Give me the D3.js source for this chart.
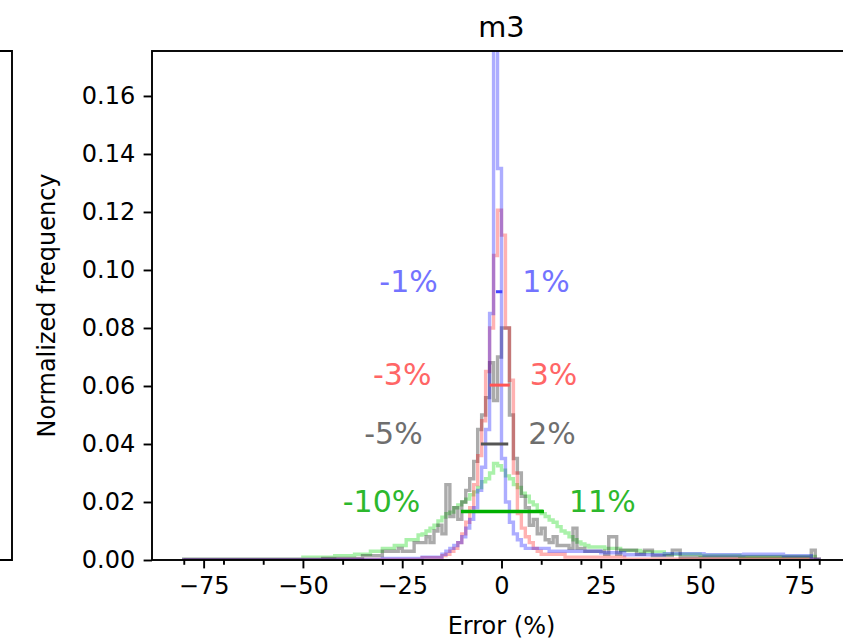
<!DOCTYPE html>
<html>
<head>
<meta charset="utf-8">
<script src="https://cdn.jsdelivr.net/npm/d3@7"></script>
<style>
  body { margin: 0; background: #fff; }
  svg { display: block; font-family: "DejaVu Sans", sans-serif; }
</style>
</head>
<body>
<div id="chart"></div>
<script>
// bins are 1% wide, left edges from -80 to 79; runs are [firstBin, lastBin, value]
const blueRuns = [
  [-80, -31, 0.0002], [-30, -21, 0.0005], [-20, -16, 0.001], [-15, -15, 0.002],
  [-14, -14, 0.003], [-13, -13, 0.004], [-12, -12, 0.005], [-11, -11, 0.006],
  [-10, -10, 0.008], [-9, -9, 0.011], [-8, -8, 0.014], [-7, -7, 0.018],
  [-6, -6, 0.024], [-5, -5, 0.032], [-4, -4, 0.045], [-3, -3, 0.085],
  [-2, -2, 0.185], [-1, -1, 0.135], [0, 0, 0.035], [1, 1, 0.02],
  [2, 2, 0.013], [3, 3, 0.009], [4, 4, 0.007], [5, 5, 0.005],
  [6, 11, 0.004], [12, 24, 0.003], [25, 30, 0.0025], [31, 40, 0.0018],
  [41, 50, 0.0022], [51, 60, 0.0018], [61, 70, 0.002], [71, 77, 0.0015],
  [78, 79, 0.0003]
];

const redRuns = [
  [-80, -21, 0.0002], [-20, -16, 0.0008], [-15, -15, 0.0015], [-14, -14, 0.002],
  [-13, -13, 0.003], [-12, -12, 0.004], [-11, -11, 0.006], [-10, -10, 0.009],
  [-9, -9, 0.013], [-8, -8, 0.018], [-7, -7, 0.026], [-6, -6, 0.036],
  [-5, -5, 0.048], [-4, -4, 0.065], [-3, -3, 0.08], [-2, -2, 0.105],
  [-1, -1, 0.1206], [0, 0, 0.112], [1, 1, 0.08], [2, 2, 0.062],
  [3, 3, 0.03], [4, 4, 0.016], [5, 5, 0.011], [6, 6, 0.008],
  [7, 7, 0.006], [8, 8, 0.004], [9, 9, 0.003], [10, 15, 0.002],
  [16, 30, 0.001], [31, 79, 0.0003]
];

const grayRuns = [
  [-80, -46, 0], [-45, -36, 0.0005], [-35, -31, 0.0015], [-30, -27, 0.003],
  [-26, -26, 0.004], [-25, -23, 0.003], [-22, -20, 0.006], [-19, -19, 0.008],
  [-18, -18, 0.006], [-17, -17, 0.010], [-16, -16, 0.012], [-15, -15, 0.009],
  [-14, -14, 0.026], [-13, -13, 0.015], [-12, -12, 0.018], [-11, -11, 0.014],
  [-10, -10, 0.02], [-9, -9, 0.024], [-8, -8, 0.028], [-7, -7, 0.034],
  [-6, -6, 0.045], [-5, -5, 0.05], [-4, -4, 0.056], [-3, -3, 0.068],
  [-2, -2, 0.055], [-1, -1, 0.07], [0, 1, 0.08], [2, 2, 0.05],
  [3, 3, 0.035], [4, 4, 0.03], [5, 5, 0.022], [6, 6, 0.018],
  [7, 7, 0.012], [8, 8, 0.014], [9, 9, 0.009], [10, 10, 0.011],
  [11, 11, 0.007], [12, 12, 0.006], [13, 13, 0.008], [14, 16, 0.005],
  [17, 17, 0.004], [18, 18, 0.011], [19, 20, 0.004], [21, 25, 0.003],
  [26, 26, 0.002], [27, 28, 0.008], [29, 29, 0.002], [30, 33, 0.0034],
  [34, 35, 0.002], [36, 37, 0.0034], [38, 42, 0.0015], [43, 44, 0.0034],
  [45, 77, 0.001], [78, 78, 0.0034], [79, 79, 0]
];

const greenRuns = [
  [-80, -51, 0.0003], [-50, -43, 0.001], [-42, -38, 0.0015], [-37, -34, 0.002],
  [-33, -31, 0.003], [-30, -28, 0.004], [-27, -25, 0.005], [-24, -22, 0.007],
  [-21, -21, 0.0086], [-20, -20, 0.009], [-19, -19, 0.010], [-18, -18, 0.011],
  [-17, -17, 0.012], [-16, -16, 0.0135], [-15, -15, 0.0148], [-14, -14, 0.016],
  [-13, -13, 0.0165], [-12, -12, 0.018], [-11, -11, 0.019], [-10, -10, 0.020],
  [-9, -9, 0.021], [-8, -8, 0.0225], [-7, -7, 0.0235], [-6, -6, 0.025],
  [-5, -5, 0.027], [-4, -4, 0.028], [-3, -3, 0.030], [-2, -2, 0.0333],
  [-1, -1, 0.0325], [0, 0, 0.031], [1, 1, 0.029], [2, 2, 0.028],
  [3, 3, 0.026], [4, 4, 0.025], [5, 5, 0.023], [6, 6, 0.022],
  [7, 7, 0.020], [8, 8, 0.019], [9, 9, 0.017], [10, 10, 0.016],
  [11, 11, 0.015], [12, 12, 0.0138], [13, 13, 0.013], [14, 14, 0.0115],
  [15, 15, 0.010], [16, 16, 0.0093], [17, 17, 0.008], [18, 18, 0.007],
  [19, 19, 0.0062], [20, 20, 0.0055], [21, 21, 0.005], [22, 25, 0.0045],
  [26, 29, 0.004], [30, 34, 0.0033], [35, 40, 0.0028], [41, 49, 0.002],
  [50, 59, 0.0016], [60, 78, 0.0012], [79, 79, 0.0003]
];

// half-maximum markers: blue, red, gray, green
const halfMax = [0.0925, 0.0603, 0.040, 0.0167];
const widthStart = [-1.4, -3.0, -5.2, -10.2];
const widthEnd = [0.2, 2.1, 1.7, 10.7];
const lowLabels = ["-1%", "-3%", "-5%", "-10%"];
const highLabels = ["1%", "3%", "2%", "11%"];

const xTicks = [-75, -50, -25, 0, 25, 50, 75];
const xMinorTicks = [-80, -70, -60, -40, -30, -20, -10, 10, 20, 30, 40, 60, 70, 80];
const yTicks = [0, 0.02, 0.04, 0.06, 0.08, 0.10, 0.12, 0.14, 0.16];

const histColors = ["rgba(0,0,255,0.32)", "rgba(255,0,0,0.3)", "rgba(0,0,0,0.33)", "rgba(20,215,20,0.36)"];
const markColors = ["#4545ff", "#ff5555", "#555555", "#00b000"];
const textColors = ["#7373ff", "#ff6666", "#6e6e6e", "#2db82d"];
const padLeft = [22, 22, 22, 20];
const padRight = [11, 11, 11, 14.7];

const width = 843, height = 643;
const margin = { left: 152, top: 51, right: 851, bottom: 560 };

function expand(runs) {
  const vals = [];
  runs.forEach(([a, b, v]) => {
    for (let k = a; k <= b; k++) vals.push({ x0: k, x1: k + 1, v: v });
  });
  return vals;
}

const svg = d3.select("#chart").append("svg")
  .attr("width", width)
  .attr("height", height);

const x = d3.scaleLinear().domain([-88, 88]).range([margin.left, margin.right]);
const y = d3.scaleLinear().domain([0, 0.1755]).range([margin.bottom, margin.top]);

svg.append("clipPath").attr("id", "plot")
  .append("rect")
  .attr("x", margin.left).attr("y", margin.top)
  .attr("width", margin.right - margin.left)
  .attr("height", margin.bottom - margin.top);

// step histograms
function stepPath(bins) {
  let d = `M${x(bins[0].x0)},${y(0)}`;
  bins.forEach((b) => {
    d += `L${x(b.x0)},${y(b.v)}L${x(b.x1)},${y(b.v)}`;
  });
  d += `L${x(bins[bins.length - 1].x1)},${y(0)}`;
  return d;
}

const series = [blueRuns, redRuns, grayRuns, greenRuns];
const drawOrder = [3, 2, 1, 0];
const histG = svg.append("g").attr("clip-path", "url(#plot)");
drawOrder.forEach((i) => {
  histG.append("path")
    .attr("d", stepPath(expand(series[i])))
    .attr("fill", "none")
    .attr("stroke", histColors[i])
    .attr("stroke-width", 3.4)
    .attr("stroke-linejoin", "miter");
});

// half-maximum width lines and labels
halfMax.forEach((h, i) => {
  svg.append("line")
    .attr("x1", x(widthStart[i])).attr("x2", x(widthEnd[i]))
    .attr("y1", y(h)).attr("y2", y(h))
    .attr("stroke", markColors[i])
    .attr("stroke-width", i == 3 ? 3.5 : 3);

  svg.append("text")
    .attr("x", x(widthStart[i] - padLeft[i]))
    .attr("y", y(h))
    .attr("text-anchor", "middle")
    .attr("font-size", 30)
    .attr("fill", textColors[i])
    .text(lowLabels[i]);

  svg.append("text")
    .attr("x", x(widthEnd[i] + padRight[i]))
    .attr("y", y(h))
    .attr("text-anchor", "middle")
    .attr("font-size", 30)
    .attr("fill", textColors[i])
    .text(highLabels[i]);
});

// axes
svg.append("g")
  .attr("transform", `translate(0,${margin.bottom})`)
  .call(d3.axisBottom(x).tickValues(xTicks).tickFormat(d3.format("d")).tickSize(8.4).tickPadding(8.4));

svg.append("g")
  .attr("transform", `translate(0,${margin.bottom})`)
  .call(d3.axisBottom(x).tickValues(xMinorTicks).tickFormat("").tickSize(4.8))
  .call((g) => g.select(".domain").remove());

svg.append("g")
  .attr("transform", `translate(${margin.left},0)`)
  .call(d3.axisLeft(y).tickValues(yTicks).tickFormat(d3.format(".2f")).tickSize(8.4).tickPadding(8.4));

svg.selectAll(".tick line").attr("stroke", "#000").attr("stroke-width", 1.9);
svg.selectAll(".domain").remove();
svg.selectAll(".tick text")
  .attr("font-family", "DejaVu Sans")
  .attr("font-size", 24)
  .attr("fill", "#000");

// spines (right one falls outside the window)
svg.append("rect")
  .attr("x", margin.left).attr("y", margin.top)
  .attr("width", margin.right - margin.left)
  .attr("height", margin.bottom - margin.top)
  .attr("fill", "none")
  .attr("stroke", "#000")
  .attr("stroke-width", 1.9);

// edge of the neighbouring panel
svg.append("path")
  .attr("d", `M-2,${margin.top}L12,${margin.top}L12,${margin.bottom}L-2,${margin.bottom}`)
  .attr("fill", "none")
  .attr("stroke", "#000")
  .attr("stroke-width", 1.9);

svg.append("text")
  .attr("x", x(0)).attr("y", 37)
  .attr("text-anchor", "middle")
  .attr("font-size", 28.8)
  .text("m3");

svg.append("text")
  .attr("x", x(0)).attr("y", 634)
  .attr("text-anchor", "middle")
  .attr("font-size", 24)
  .text("Error (%)");

svg.append("text")
  .attr("transform", `translate(55,${(margin.top + margin.bottom) / 2}) rotate(-90)`)
  .attr("text-anchor", "middle")
  .attr("font-size", 24)
  .text("Normalized frequency");
</script>
</body>
</html>
